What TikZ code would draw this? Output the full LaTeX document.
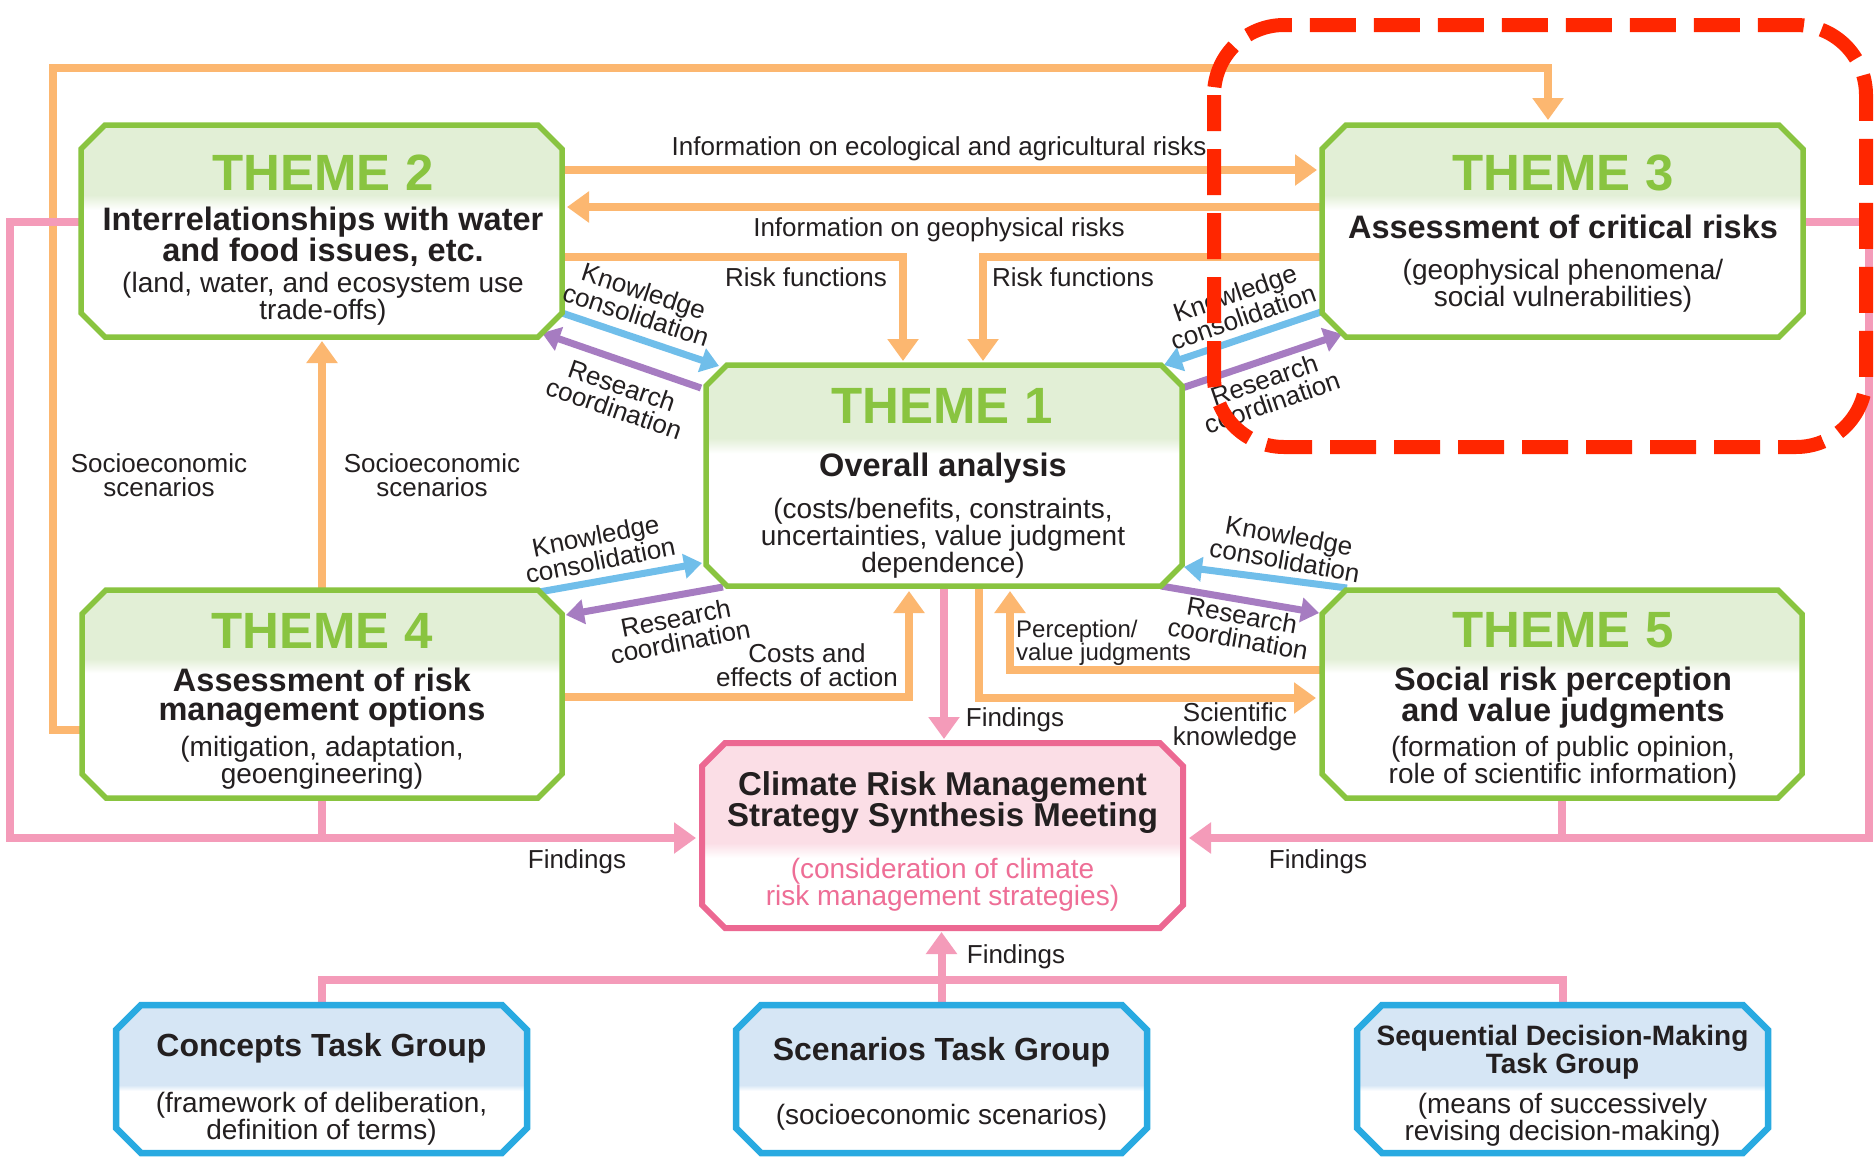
\documentclass[tikz,border=0pt]{standalone}
\usepackage{fontspec}
\setmainfont{Liberation Sans}
\usetikzlibrary{arrows.meta,calc}
\definecolor{tgreen}{RGB}{137,196,64}
\definecolor{lgreen}{RGB}{226,239,214}
\definecolor{aorange}{RGB}{252,183,112}
\definecolor{apink}{RGB}{244,155,185}
\definecolor{ablue}{RGB}{112,190,234}
\definecolor{apurple}{RGB}{166,124,193}
\definecolor{cpink}{RGB}{236,104,146}
\definecolor{cpinkfill}{RGB}{251,222,230}
\definecolor{cpinktext}{RGB}{238,110,150}
\definecolor{tblue}{RGB}{41,170,225}
\definecolor{tbluefill}{RGB}{214,230,245}
\definecolor{dred}{RGB}{255,38,0}
\definecolor{txt}{RGB}{35,31,32}
\pgfdeclareverticalshading{gshade}{100bp}{color(0bp)=(white); color(55bp)=(white); color(58.5bp)=(lgreen); color(100bp)=(lgreen)}
\pgfdeclareverticalshading{pshade}{100bp}{color(0bp)=(white); color(44bp)=(white); color(48bp)=(cpinkfill); color(100bp)=(cpinkfill)}
\pgfdeclareverticalshading{bshade}{100bp}{color(0bp)=(white); color(46bp)=(white); color(48bp)=(tbluefill); color(100bp)=(tbluefill)}
\newcommand\fs[2]{\fontsize{#1}{#2}\selectfont}
\newcommand\octo[5]{\path[draw=#3, line width=#5, shade, shading=#4, line join=miter]
 ($(#1.north west)+(#2,0)$) -- ($(#1.north east)+(-#2,0)$) -- ($(#1.north east)+(0,#2)$) --
 ($(#1.south east)+(0,-#2)$) -- ($(#1.south east)+(-#2,0)$) -- ($(#1.south west)+(#2,0)$) --
 ($(#1.south west)+(0,-#2)$) -- ($(#1.north west)+(0,#2)$) -- cycle;}
\begin{document}
\begin{tikzpicture}[x=1pt,y=-1pt,
 boxn/.style={inner sep=0pt, outer sep=0pt, draw=none},
 ttl/.style={text=tgreen, font=\fs{51}{51}\bfseries, inner sep=0pt},
 stxt/.style={text=txt, font=\fs{32.5}{29}\bfseries, align=center, inner sep=0pt},
 ptxt/.style={text=txt, font=\fs{28}{25}, align=center, inner sep=0pt},
 lab/.style={text=txt, font=\fs{26}{24}, align=center, inner sep=0pt},
 oline/.style={draw=aorange, line width=8pt, line join=miter},
 otip/.style={-{Triangle[width=30pt,length=22pt]}},
 pline/.style={draw=apink, line width=8pt, line join=miter},
 bline/.style={draw=ablue, line width=7pt},
 uline/.style={draw=apurple, line width=7pt},
 stip/.style={-{Triangle[width=24pt,length=18pt]}}]
\fill[white] (0,0) rectangle (1874,1160);
\useasboundingbox (0,0) rectangle (1874,1160);
% box anchors
\node[boxn, minimum width=481pt, minimum height=212pt] (t2) at (321.5,231) {};
\node[boxn, minimum width=481pt, minimum height=212pt] (t3) at (1562.5,231) {};
\node[boxn, minimum width=476pt, minimum height=221pt] (t1) at (944,475.5) {};
\node[boxn, minimum width=480pt, minimum height=208pt] (t4) at (322,694) {};
\node[boxn, minimum width=480pt, minimum height=208pt] (t5) at (1562,694) {};
\node[boxn, minimum width=481pt, minimum height=185pt] (cm) at (942.5,835.5) {};
\node[boxn, minimum width=411pt, minimum height=148pt] (g1) at (321.5,1079) {};
\node[boxn, minimum width=411pt, minimum height=148pt] (g2) at (941.5,1079) {};
\node[boxn, minimum width=411pt, minimum height=148pt] (g3) at (1562.5,1079) {};
% orange connectors
\draw[oline,otip] (t4.west |- 0,730) -- (53,730) -- (53,68) -- (1548,68) -- (1548,120);
\draw[oline,otip] (t2.east |- 0,170) -- (1317,170);
\draw[oline,otip] (t3.west |- 0,207) -- (567,207);
\draw[oline,otip] (t2.east |- 0,257) -- (903,257) -- (903,361);
\draw[oline,otip] (t3.west |- 0,257) -- (983,257) -- (983,361);
\draw[oline,otip] (t4.north) -- (322,341);
\draw[oline,otip] (t4.east |- 0,697) -- (909,697) -- (909,591);
\draw[oline,otip] (t5.west |- 0,670) -- (1010,670) -- (1010,591);
\draw[oline,otip] (979,586) -- (979,698) -- (1316,698);
% pink connectors
\draw[pline,otip] (t2.west |- 0,222) -- (10,222) -- (10,838) -- (696,838);
\draw[pline] (t4.south) -- (322,838);
\draw[pline,otip] (t3.east |- 0,222) -- (1869,222) -- (1869,838) -- (1189,838);
\draw[pline] (t5.south) -- (1562,838);
\draw[pline,otip] (t1.south) -- (944,739);
\draw[pline] (g1.north) -- (321.5,980) -- (1562.5,980) -- (g3.north);
\draw[pline,otip] (g2.north) -- (941.5,932);
% blue / purple
\draw[bline,stip] (562,313) -- (719,366);
\draw[uline,stip] (701,388) -- (542,333);
\draw[bline,stip] (1321,312) -- (1164,365);
\draw[uline,stip] (1182,388) -- (1342,334);
\draw[bline,stip] (539,592) -- (702,563);
\draw[uline,stip] (723,587) -- (566,615);
\draw[bline,stip] (1347,588) -- (1184,567);
\draw[uline,stip] (1161,586) -- (1319,613);
% boxes
\octo{t2}{24}{tgreen}{gshade}{5.5pt}
\octo{t3}{24}{tgreen}{gshade}{5.5pt}
\octo{t1}{21}{tgreen}{gshade}{5.5pt}
\octo{t4}{24}{tgreen}{gshade}{5.5pt}
\octo{t5}{24}{tgreen}{gshade}{5.5pt}
\octo{cm}{23}{cpink}{pshade}{6pt}
\octo{g1}{25}{tblue}{bshade}{6.5pt}
\octo{g2}{25}{tblue}{bshade}{6.5pt}
\octo{g3}{25}{tblue}{bshade}{6.5pt}
% box texts
\node[ttl] (t2a) at (323,172.5) {THEME 2};
\node[stxt] (t2b) at (323,237) {Interrelationships with water\\and food issues, etc.};
\node[ptxt] (t2c) at (323,298.5) {(land, water, and ecosystem use\\trade-offs)};
\node[ttl] (t3a) at (1563,172.5) {THEME 3};
\node[stxt] (t3b) at (1563,227) {Assessment of critical risks};
\node[ptxt] (t3c) at (1563,286) {(geophysical phenomena/\\social vulnerabilities)};
\node[ttl] (t1a) at (942,405.5) {THEME 1};
\node[stxt] (t1b) at (943,468) {Overall analysis};
\node[ptxt] (t1c) at (943,538) {(costs/benefits, constraints,\\uncertainties, value judgment\\dependence)};
\node[ttl] (t4a) at (322,630.5) {THEME 4};
\node[stxt] (t4b) at (322,697.5) {Assessment of risk\\management options};
\node[ptxt] (t4c) at (322,762.5) {(mitigation, adaptation,\\geoengineering)};
\node[ttl] (t5a) at (1563,630.5) {THEME 5};
\node[stxt] (t5b) at (1563,697.5) {Social risk perception\\and value judgments};
\node[ptxt] (t5c) at (1563,762.5) {(formation of public opinion,\\role of scientific information)};
\node[stxt, font=\fs{33}{29}\bfseries] (cma) at (942.5,802.5) {Climate Risk Management\\Strategy Synthesis Meeting};
\node[ptxt, text=cpinktext, font=\fs{28}{26}] (cmb) at (942.5,885) {(consideration of climate\\risk management strategies)};
\node[stxt, font=\fs{32}{29}\bfseries] (g1a) at (321.5,1048) {Concepts Task Group};
\node[ptxt, font=\fs{28}{27}] (g1b) at (321.5,1119) {(framework of deliberation,\\definition of terms)};
\node[stxt, font=\fs{32}{29}\bfseries] (g2a) at (941.5,1052) {Scenarios Task Group};
\node[ptxt] (g2b) at (941.5,1117) {(socioeconomic scenarios)};
\node[stxt, font=\fs{28}{28}\bfseries] (g3a) at (1562.5,1052) {Sequential Decision-Making\\Task Group};
\node[ptxt, font=\fs{28}{27}] (g3b) at (1562.5,1120) {(means of successively\\revising decision-making)};
% labels
\node[lab] (l1) at (939,149) {Information on ecological and agricultural risks};
\node[lab] (l2) at (939,230) {Information on geophysical risks};
\node[lab] (l3) at (806,277) {Risk functions};
\node[lab] (l4) at (1073,277) {Risk functions};
\node[lab] (l5) at (159,475) {Socioeconomic\\scenarios};
\node[lab] (l6) at (432,475) {Socioeconomic\\scenarios};
\node[lab, rotate=-18] (l7) at (640,303) {Knowledge\\consolidation};
\node[lab, rotate=-19] (l8) at (618,397) {Research\\coordination};
\node[lab, rotate=19] (l9) at (1239,305) {Knowledge\\consolidation};
\node[lab, rotate=19] (l10) at (1268,391) {Research\\coordination};
\node[lab, rotate=11] (l11) at (598,548) {Knowledge\\consolidation};
\node[lab, rotate=11] (l12) at (678,630) {Research\\coordination};
\node[lab, rotate=-10] (l13) at (1287,548) {Knowledge\\consolidation};
\node[lab, rotate=-10] (l14) at (1240,627) {Research\\coordination};
\node[lab] (l15) at (807,665) {Costs and\\effects of action};
\node[lab, font=\fs{24}{23}, align=left, anchor=west] (l16) at (1016,643) {Perception/\\value judgments};
\node[lab] (l17) at (1235,727) {Scientific\\knowledge};
\node[lab] (l18) at (1015,720) {Findings};
\node[lab] (l19) at (577,862) {Findings};
\node[lab] (l20) at (1318,862) {Findings};
\node[lab] (l21) at (1016,957) {Findings};
% highlight
\draw[dred, line width=14pt, dash pattern=on 46pt off 18pt, dash phase=10pt, rounded corners=70pt] (1214,25) rectangle (1866,447);
\end{tikzpicture}
\end{document}
